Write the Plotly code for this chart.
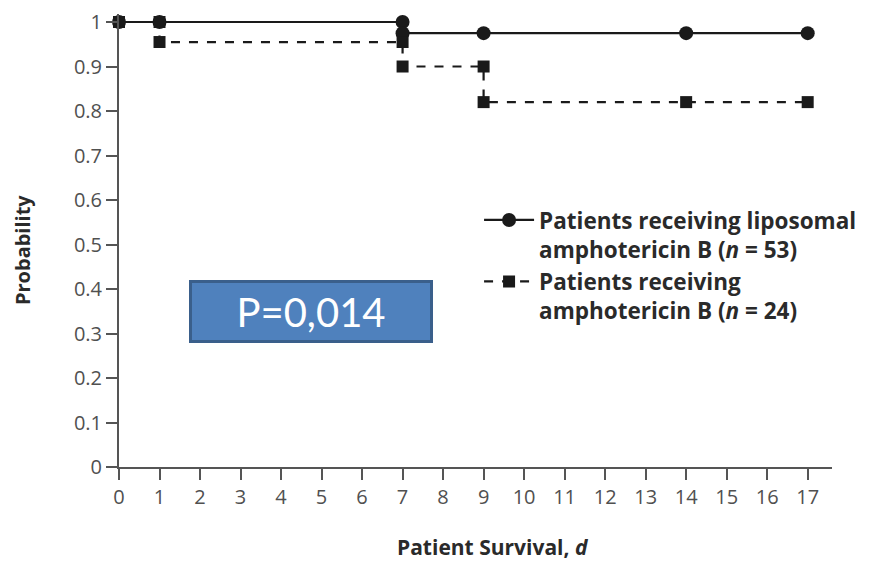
import plotly.graph_objects as go

# Kaplan-Meier step data (days, survival probability)
lipo_days = [0, 1, 7, 7, 9, 14, 17]
lipo_surv = [1.0, 1.0, 1.0, 0.975, 0.975, 0.975, 0.975]

ampho_days = [0, 1, 1, 7, 7, 9, 9, 14, 17]
ampho_surv = [1.0, 1.0, 0.955, 0.955, 0.9, 0.9, 0.82, 0.82, 0.82]

lipo_name = "Patients receiving liposomal<br>amphotericin B (<i>n</i> = 53)"
ampho_name = "Patients receiving<br>amphotericin B (<i>n</i> = 24)"

x_ticks = list(range(0, 18))
y_ticks = [0, 0.1, 0.2, 0.3, 0.4, 0.5, 0.6, 0.7, 0.8, 0.9, 1]
y_tick_text = ["0", "0.1", "0.2", "0.3", "0.4", "0.5", "0.6", "0.7", "0.8", "0.9", "1"]

x_title = "Patient Survival, <i>d</i>"
y_title = "Probability"
p_text = "P=0,014"

ink = "#1a1a1a"
axis_col = "#555555"
title_col = "#2a2a2a"
font_family = "Open Sans, DejaVu Sans, sans-serif"

fig = go.Figure()

fig.add_trace(go.Scatter(
    x=lipo_days, y=lipo_surv, name=lipo_name, mode="lines+markers",
    line=dict(color=ink, width=2.2, shape="hv"),
    marker=dict(symbol="circle", size=14, color=ink),
    cliponaxis=False,
))
fig.add_trace(go.Scatter(
    x=ampho_days, y=ampho_surv, name=ampho_name, mode="lines+markers",
    line=dict(color=ink, width=2.2, dash="dash", shape="hv"),
    marker=dict(symbol="square", size=12, color=ink),
    cliponaxis=False,
))

# p-value box
fig.add_annotation(
    x=4.74, y=0.349, xref="x", yref="y", text=p_text, showarrow=False,
    font=dict(family="Lato, sans-serif", size=40, color="white"),
    bgcolor="#4F81BD", bordercolor="#3A5F8B", borderwidth=3, borderpad=0,
    width=238, height=57,
)

# axis titles
fig.add_annotation(
    x=0.5245, y=-0.1765, xref="paper", yref="paper", text=x_title,
    showarrow=False, xanchor="center", yanchor="middle",
    font=dict(size=21, color=title_col, weight="bold"),
)
fig.add_annotation(
    x=-0.136, y=0.479, xref="paper", yref="paper", text=y_title,
    showarrow=False, xanchor="center", yanchor="middle", textangle=-90,
    font=dict(size=20, color=title_col, weight="bold"),
)

fig.update_layout(
    width=870, height=563,
    margin=dict(l=119, r=38, t=8, b=96),
    paper_bgcolor="white", plot_bgcolor="white",
    font=dict(family=font_family, color="#444444"),
    showlegend=True,
    legend=dict(
        x=0.505, y=0.592, xanchor="left", yanchor="top",
        bgcolor="rgba(0,0,0,0)", valign="top",
        font=dict(size=22.5, color=title_col, weight="bold"),
        itemwidth=50,
    ),
    xaxis=dict(
        range=[0, 17.6], tickmode="array", tickvals=x_ticks,
        ticks="outside", ticklen=11, tickwidth=2, tickcolor=axis_col,
        showline=True, linecolor=axis_col, linewidth=2,
        showgrid=False, zeroline=False,
        tickfont=dict(size=20, color="#505050"),
    ),
    yaxis=dict(
        range=[0, 1.018], tickmode="array", tickvals=y_ticks, ticktext=y_tick_text,
        ticks="outside", ticklen=11, tickwidth=2, tickcolor=axis_col,
        showline=True, linecolor=axis_col, linewidth=2,
        showgrid=False, zeroline=False,
        tickfont=dict(size=20, color="#505050"),
    ),
)

fig.write_html("out.html")
